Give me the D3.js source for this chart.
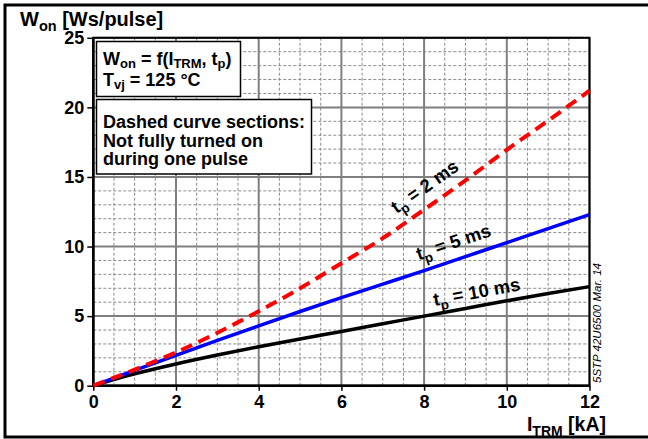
<!DOCTYPE html>
<html><head><meta charset="utf-8">
<script src="https://cdn.jsdelivr.net/npm/d3@7"></script>
<style>
body{margin:0;background:#fff}
svg text{font-family:"Liberation Sans",Arial,Helvetica,sans-serif;font-weight:bold;fill:#000}
</style>
</head><body><svg id="c" width="648" height="439"></svg>
<script>
// ---- data ----
const currentKA = [0,1,2,3,4,5,6,7,8,9,10,11,12];
const won2ms  = [0,1.15,2.4,3.8,5.35,7.0,8.8,10.6,12.65,14.75,16.95,19.05,21.2];
const won5ms  = [0,1.1,2.18,3.25,4.3,5.33,6.33,7.3,8.27,9.27,10.28,11.29,12.3];
const won10ms = [0,0.85,1.56,2.2,2.8,3.36,3.9,4.45,5.0,5.55,6.1,6.62,7.12];
const pulseLabels = ["2 ms","5 ms","10 ms"];
const xTicks = [0,2,4,6,8,10,12];
const yTicks = [0,5,10,15,20,25];

const svg = d3.select("#c");
const x = d3.scaleLinear().domain([0,12]).range([93.3,589.5]);
const y = d3.scaleLinear().domain([0,25]).range([385.7,37.8]);

// outer frame (right edge off-canvas)
svg.append("rect").attr("x",5).attr("y",5).attr("width",720).attr("height",432)
  .attr("fill","none").attr("stroke","#000").attr("stroke-width",3);

const g = svg.append("g");
// minor grid
const minorX = d3.range(0,12.01,0.5).filter(v=>v%2!==0);
const minorY = d3.range(0,25.01,1).filter(v=>v%5!==0);
g.selectAll(".mx").data(minorX).join("line")
  .attr("x1",d=>x(d)).attr("x2",d=>x(d)).attr("y1",y(0)).attr("y2",y(25))
  .attr("stroke","#8a8a8a").attr("stroke-width",1).attr("stroke-dasharray","3,2");
g.selectAll(".my").data(minorY).join("line")
  .attr("y1",d=>y(d)).attr("y2",d=>y(d)).attr("x1",x(0)).attr("x2",x(12))
  .attr("stroke","#8a8a8a").attr("stroke-width",1).attr("stroke-dasharray","3,2");
// major grid
g.selectAll(".Mx").data(xTicks).join("line")
  .attr("x1",d=>x(d)).attr("x2",d=>x(d)).attr("y1",y(0)).attr("y2",y(25))
  .attr("stroke","#7f7f7f").attr("stroke-width",2);
g.selectAll(".My").data(yTicks).join("line")
  .attr("y1",d=>y(d)).attr("y2",d=>y(d)).attr("x1",x(0)).attr("x2",x(12))
  .attr("stroke","#7f7f7f").attr("stroke-width",2);

// axes
const ax = svg.append("g").attr("transform",`translate(0,${y(0)})`)
  .call(d3.axisBottom(x).tickValues(xTicks).tickSize(5).tickPadding(5).tickFormat(d3.format("d")));
const ay = svg.append("g").attr("transform",`translate(${x(0)},0)`)
  .call(d3.axisLeft(y).tickValues(yTicks).tickSize(6).tickPadding(3).tickFormat(d3.format("d")));
[ax,ay].forEach(a=>{
  a.select(".domain").remove();
  a.selectAll(".tick line").attr("stroke","#000").attr("stroke-width",1.5);
  a.selectAll(".tick text").style("font-size","18px").attr("fill","#000");
});

// plot frame
svg.append("rect").attr("x",x(0)).attr("y",y(25)).attr("width",x(12)-x(0)).attr("height",y(0)-y(25))
  .attr("fill","none").attr("stroke","#000").attr("stroke-width",2);
svg.append("line").attr("x1",x(0)).attr("x2",x(0)).attr("y1",y(0)).attr("y2",y(25)).attr("stroke","#000").attr("stroke-width",2.5);
svg.append("line").attr("x1",x(0)).attr("x2",x(12)).attr("y1",y(0)).attr("y2",y(0)).attr("stroke","#000").attr("stroke-width",2.5);

// curves
const line = d3.line().x(d=>x(d[0])).y(d=>y(d[1])).curve(d3.curveMonotoneX);
const series = [
  {vals:won10ms, color:"#000", dash:null, w:3.5},
  {vals:won5ms, color:"#0000ff", dash:null, w:3.5},
  {vals:won2ms, color:"#ff0000", dash:"12,7", w:4}
];
series.forEach(s=>{
  svg.append("path").datum(currentKA.map((c,i)=>[c,s.vals[i]]))
    .attr("d",line).attr("fill","none").attr("stroke",s.color).attr("stroke-width",s.w)
    .attr("stroke-dasharray",s.dash);
});

// curve labels
function interp(vals,k){const i=Math.min(Math.floor(k),11);const t=k-i;return vals[i]+(vals[i+1]-vals[i])*t;}
const labelSpec = [
  {vals:won2ms, name:pulseLabels[0], k:8.1, dv:15},
  {vals:won5ms, name:pulseLabels[1], k:8.76, dv:12},
  {vals:won10ms, name:pulseLabels[2], k:9.3, dv:8}
];
labelSpec.forEach(l=>{
  const px=x(l.k), py=y(interp(l.vals,l.k))-l.dv;
  const dx=x(l.k+1)-x(l.k-1), dy=y(interp(l.vals,l.k+1))-y(interp(l.vals,l.k-1));
  const ang=Math.atan2(dy,dx)*180/Math.PI;
  const t=svg.append("text").attr("transform",`translate(${px},${py}) rotate(${ang})`)
    .attr("text-anchor","middle").style("font-size","18.5px");
  t.append("tspan").text("t");
  t.append("tspan").attr("dy",5).style("font-size","13.5px").text("p");
  t.append("tspan").attr("dy",-5).text(" = "+l.name);
});

// axis titles
const yt = svg.append("text").attr("x",20).attr("y",26).style("font-size","20px");
yt.append("tspan").text("W");
yt.append("tspan").attr("dy",5).style("font-size","14.5px").text("on");
yt.append("tspan").attr("dy",-5).text(" [Ws/pulse]");
const xt = svg.append("text").attr("x",606).attr("y",431).attr("text-anchor","end").style("font-size","19.5px");
xt.append("tspan").text("I");
xt.append("tspan").attr("dy",5).style("font-size","14px").text("TRM");
xt.append("tspan").attr("dy",-5).text(" [kA]");

// info boxes
svg.append("rect").attr("x",96.5).attr("y",41.5).attr("width",144).attr("height",55)
  .attr("fill","#fff").attr("stroke","#000").attr("stroke-width",1.5);
svg.append("rect").attr("x",96.5).attr("y",99.5).attr("width",215).attr("height",74.5)
  .attr("fill","#fff").attr("stroke","#000").attr("stroke-width",1.5);
const b1 = svg.append("text").attr("x",103).attr("y",65).style("font-size","18px");
b1.append("tspan").text("W");
b1.append("tspan").attr("dy",3).style("font-size","13px").text("on");
b1.append("tspan").attr("dy",-3).text(" = f(I");
b1.append("tspan").attr("dy",3).style("font-size","13px").text("TRM");
b1.append("tspan").attr("dy",-3).text(", t");
b1.append("tspan").attr("dy",3).style("font-size","13px").text("p");
b1.append("tspan").attr("dy",-3).text(")");
const b2 = svg.append("text").attr("x",103).attr("y",86).style("font-size","18px");
b2.append("tspan").text("T");
b2.append("tspan").attr("dy",3).style("font-size","13px").text("vj");
b2.append("tspan").attr("dy",-3).text(" = 125 °C");
["Dashed curve sections:","Not fully turned on","during one pulse"].forEach((s,i)=>{
  svg.append("text").attr("x",103).attr("y",128+i*18.5).style("font-size","18px").text(s);
});

// document id
svg.append("text").attr("transform",`translate(601,383) rotate(-90)`)
  .style("font-size","11.5px").style("font-style","italic").style("font-weight","normal").text("5STP 42U6500 Mar. 14");
</script></body></html>
